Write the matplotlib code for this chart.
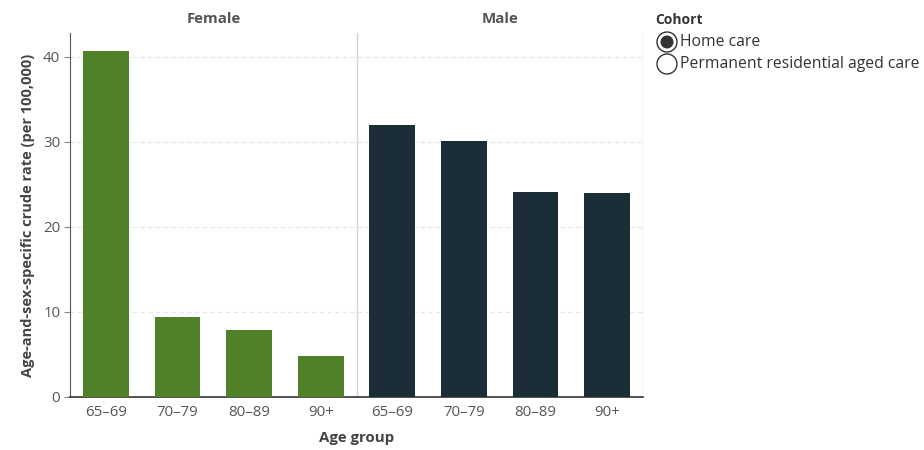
import matplotlib
matplotlib.use("Agg")
import matplotlib.pyplot as plt
import numpy as np

plt.rcParams["font.family"] = ["Open Sans", "DejaVu Sans"]

# data --------------------------------------------------------------------
age_groups = ["65–69", "70–79", "80–89", "90+"]
female = [40.7, 9.4, 7.9, 4.8]
male = [32.0, 30.1, 24.1, 24.0]
green, navy = "#4e8128", "#1b2e38"

W, H = 924, 450
fig = plt.figure(figsize=(W / 100, H / 100), dpi=100)
ax = fig.add_axes([70 / W, (H - 397) / H, (643 - 70) / W, (397 - 33) / H])

x = np.arange(8)
ax.bar(x[:4], female, width=0.64, color=green, zorder=3)
ax.bar(x[4:], male, width=0.64, color=navy, zorder=3)
ax.set_xlim(-0.5, 7.5); ax.set_ylim(0, 42.8)
ax.axvline(3.5, color="#d4d4d4", lw=1, zorder=1)
ax.axvline(7.5, color="#d4d4d4", lw=1, zorder=1)
for v in (10, 20, 30, 40):
    ax.axhline(v, color="#e6e6e6", lw=0.8, ls=(0, (4, 3)), zorder=1)

ax.set_xticks(x); ax.set_xticklabels(age_groups * 2)
ax.set_yticks([0, 10, 20, 30, 40])
ax.tick_params(axis="x", length=0, pad=6, labelsize=10.8, labelcolor="#555555")
ax.tick_params(axis="y", length=4, color="#888888", labelsize=10.8, labelcolor="#555555", pad=3)
for s in ("top", "right"): ax.spines[s].set_visible(False)
ax.spines["left"].set_color("#555555"); ax.spines["bottom"].set_color("#333333")
ax.spines["bottom"].set_linewidth(1.2)

ax.set_xlabel("Age group", fontsize=10.8, fontweight="bold", color="#444444", labelpad=8)
ax.set_ylabel("Age-and-sex-specific crude rate (per 100,000)", fontsize=10.5, fontweight="bold",
              color="#444444", labelpad=6)
ax.text(1.5, 1.02, "Female", transform=ax.get_xaxis_transform(), ha="center", va="bottom",
        fontsize=10.8, fontweight="bold", color="#555555")
ax.text(5.5, 1.02, "Male", transform=ax.get_xaxis_transform(), ha="center", va="bottom",
        fontsize=10.8, fontweight="bold", color="#555555")

# cohort selector
fig.text(655 / W, 1 - 20 / H, "Cohort", fontsize=10, fontweight="bold", color="#333333", va="center")
for i, (lab, filled) in enumerate([("Home care", True), ("Permanent residential aged care", False)]):
    yy = 1 - (42 + 22 * i) / H
    fig.patches.append(matplotlib.patches.Ellipse((667 / W, yy), 20 / W, 20 / H, transform=fig.transFigure,
                       facecolor="white", edgecolor="#333333", lw=1))
    if filled:
        fig.patches.append(matplotlib.patches.Ellipse((667 / W, yy), 13 / W, 13 / H, transform=fig.transFigure,
                           facecolor="#333333", edgecolor="none"))
    fig.text(680 / W, yy, lab, fontsize=11.3, color="#333333", va="center")

fig.savefig("out.png", dpi=100, facecolor="white")
